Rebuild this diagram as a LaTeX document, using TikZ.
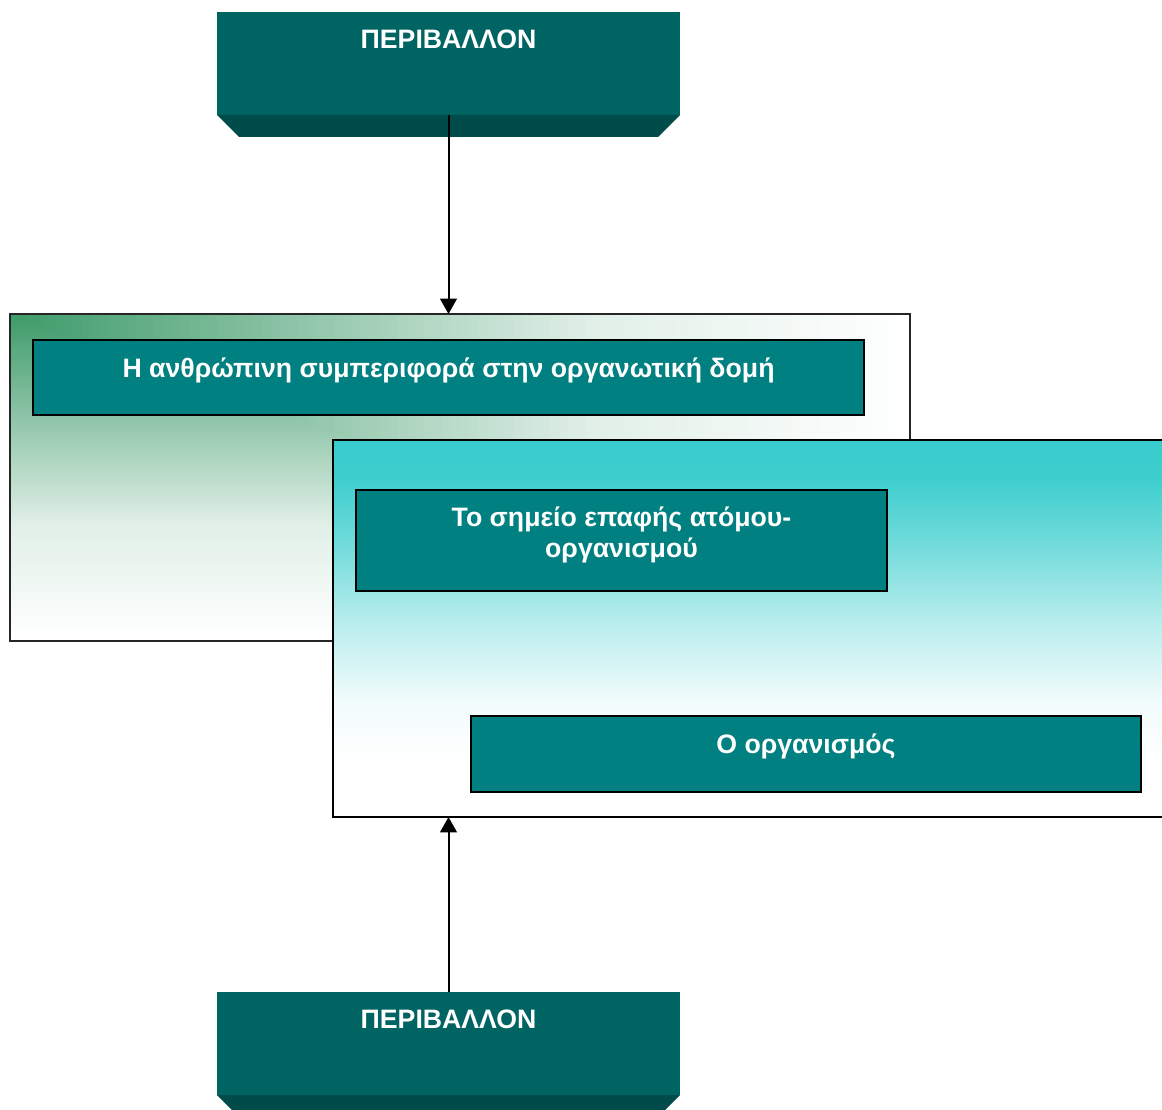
\documentclass[tikz,border=0pt]{standalone}
\usepackage{fontspec}
\setmainfont{Liberation Sans}
\usetikzlibrary{calc,arrows.meta}

\definecolor{envteal}{RGB}{0,100,98}
\definecolor{envshade}{RGB}{0,76,74}
\definecolor{boxteal}{RGB}{0,128,128}
\definecolor{cornergreen}{RGB}{60,154,104}
\definecolor{topcyan}{RGB}{56,204,204}

% vertical fade of the lower panel: cyan at the top, white towards the bottom
\pgfdeclareverticalshading{cyanfade}{100bp}{%
  color(0bp)=(white); color(32.5bp)=(white);
  color(40.5bp)=(topcyan!7!white); color(51bp)=(topcyan!36!white);
  color(61.75bp)=(topcyan!73!white); color(70bp)=(topcyan!97!white);
  color(75bp)=(topcyan); color(100bp)=(topcyan)}

\tikzset{
  wh/.style 2 args={minimum width=#1*0.75pt, minimum height=#2*0.75pt,
                    inner sep=0pt, outer sep=0pt},
  envbox/.style={rectangle, fill=envteal},
  tealbox/.style={rectangle, fill=boxteal, draw=black, line width=1.5pt},
  panel/.style={rectangle, draw=black!85, line width=1.3pt},
  label/.style={text=white, font=\bfseries\fontsize{20}{23.25}\selectfont,
                inner sep=0pt, anchor=base, align=center},
  flow/.style={line width=1.5pt, -{Triangle[length=11.5pt,width=12.5pt]}}
}

\begin{document}
\begin{tikzpicture}[x=0.75pt,y=-0.75pt]
\useasboundingbox (0,0) rectangle (1162,1109);

% top environment block with its bevelled lower edge
\node[envbox, wh={463}{103}] (env1) at (448.5,63.5) {};
\fill[envshade] (env1.south west) -- (env1.south east) -- ++(-22,22)
  -- ($(env1.south west)+(22,22)$) -- cycle;
\node[label] (env1txt) at (448.5,48.5) {ΠΕΡΙΒΑΛΛΟΝ};

% upper panel: green fading out from its top-left corner
\foreach \k in {100,99,...,1}{
  \pgfmathsetmacro\t{\k/100}
  \pgfmathsetmacro\w{\t<0.65 ? 1.3*\t : 0.845+(\t-0.65)*0.443}
  \pgfmathsetmacro\g{max(0,100-100*\w)}
  \fill[cornergreen!\g!white] (10,314) rectangle ++(900*\t,327*\t);
}
\node[panel, wh={900}{327}] (frame1) at (460,477.5) {};
\node[tealbox, wh={831}{75}] (inner1) at (448.5,377.5) {};
\node[label] (inner1txt) at (448.5,377) {Η ανθρώπινη συμπεριφορά στην οργανωτική δομή};

% lower panel, running past the right edge
\node[panel, draw=black, line width=1.5pt, shading=cyanfade, wh={842}{377}] (frame2) at (754,628.5) {};
\node[tealbox, wh={531}{101}] (inner2) at (621.5,540.5) {};
\node[label] (inner2txt) at (621.5,557) {Το σημείο επαφής ατόμου-\\οργανισμού};
\node[tealbox, wh={670}{76}] (inner3) at (806,754) {};
\node[label] (inner3txt) at (806,753.5) {Ο οργανισμός};

% bottom environment block
\node[envbox, wh={463}{103}] (env2) at (448.5,1043.5) {};
\fill[envshade] (env2.south west) -- (env2.south east) -- ++(-22,22)
  -- ($(env2.south west)+(22,22)$) -- cycle;
\node[label] (env2txt) at (448.5,1028.5) {ΠΕΡΙΒΑΛΛΟΝ};

% connectors
\draw[flow] (env1.south) -- (env1.south |- frame1.north);
\draw[flow] (env2.north) -- (env2.north |- frame2.south);
\end{tikzpicture}
\end{document}
